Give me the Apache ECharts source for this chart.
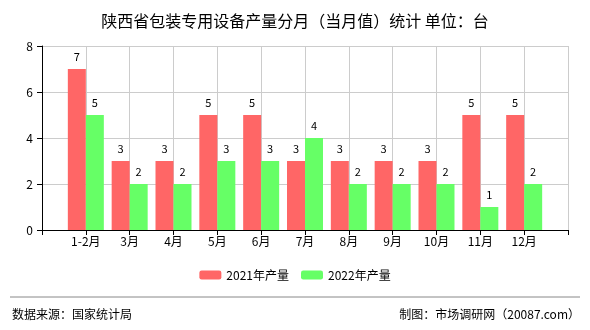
<!DOCTYPE html>
<html>
<head>
    <meta charset="utf-8">
    <script src="https://cdn.jsdelivr.net/npm/echarts@6/dist/echarts.min.js"></script>
    <style>
        html, body { margin: 0; padding: 0; background: #fff; }
    </style>
</head>
<body>
<div id="main" style="width: 590px;height:330px"></div>

<script type="text/javascript">
    // 月份与数据
    var months = ['1-2月', '3月', '4月', '5月', '6月', '7月', '8月', '9月', '10月', '11月', '12月'];
    var data2021 = [7, 3, 3, 5, 5, 3, 3, 3, 3, 5, 5];
    var data2022 = [5, 2, 2, 3, 3, 4, 2, 2, 2, 1, 2];
    var yTicks = [0, 2, 4, 6, 8];

    // 两端留一个空类目，刻度落在月份中心
    var axisData = [''].concat(months, ['']);
    function pad(arr) {
        return ['-'].concat(arr, ['-']);
    }

    var font = '"Noto Sans CJK SC", sans-serif';
    var chartDom = document.getElementById('main');
    var myChart = echarts.init(chartDom);
    var option;

    option = {
        animation: false,
        title: {
            text: '陕西省包装专用设备产量分月（当月值）统计 单位：台',
            left: 'center',
            top: 8,
            textStyle: { fontSize: 16, fontWeight: 'normal', color: '#000', fontFamily: font }
        },
        legend: {
            bottom: 44,
            left: 'center',
            itemWidth: 22,
            itemHeight: 9,
            itemGap: 12,
            textStyle: { fontSize: 12, color: '#000', fontFamily: font },
            data: ['2021年产量', '2022年产量']
        },
        grid: { left: 42, right: 22, top: 46, bottom: 100 },
        xAxis: {
            type: 'category',
            boundaryGap: false,
            data: axisData,
            axisLine: { lineStyle: { color: '#000' } },
            axisTick: { length: 5, lineStyle: { color: '#000' } },
            axisLabel: { color: '#000', fontSize: 12, fontFamily: font, margin: 5, interval: 0 },
            splitLine: { show: true, lineStyle: { color: '#ccc' } }
        },
        yAxis: {
            type: 'value',
            min: yTicks[0],
            max: yTicks[yTicks.length - 1],
            interval: 2,
            axisLine: { show: true, lineStyle: { color: '#000' } },
            axisTick: { show: true, length: 5, lineStyle: { color: '#000' } },
            axisLabel: { color: '#000', fontSize: 12, fontFamily: font, margin: 9 },
            splitLine: { lineStyle: { color: '#ccc' } }
        },
        series: [
            {
                name: '2021年产量',
                type: 'bar',
                barWidth: 18,
                barGap: 0,
                itemStyle: { color: '#ff6666' },
                label: { show: true, position: 'top', color: '#000', fontSize: 11, fontFamily: font, distance: 7 },
                data: pad(data2021)
            },
            {
                name: '2022年产量',
                type: 'bar',
                barWidth: 18,
                barGap: 0,
                itemStyle: { color: '#66ff66' },
                label: { show: true, position: 'top', color: '#000', fontSize: 11, fontFamily: font, distance: 7 },
                data: pad(data2022)
            }
        ],
        graphic: [
            {
                type: 'line',
                shape: { x1: 10, y1: 297, x2: 580, y2: 297 },
                style: { stroke: '#888', lineWidth: 1 }
            },
            {
                type: 'text',
                left: 12,
                top: 308,
                style: { text: '数据来源：国家统计局', fill: '#000', font: '12px ' + font }
            },
            {
                type: 'text',
                right: 10,
                top: 308,
                style: { text: '制图：市场调研网（20087.com）', fill: '#000', font: '12px ' + font }
            }
        ]
    };

    option && myChart.setOption(option);
</script>
</body>
</html>
